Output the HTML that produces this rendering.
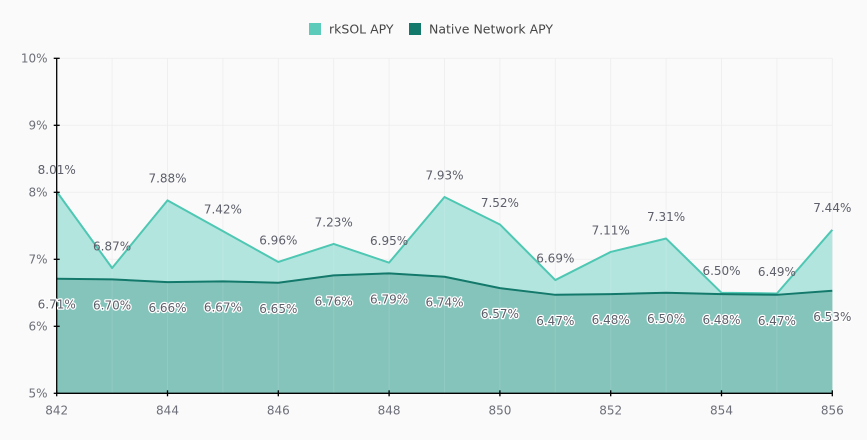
<!DOCTYPE html>
<html><head><meta charset="utf-8"><style>
html,body{margin:0;padding:0;background:#fafafa;}
svg{display:block;font-family:"DejaVu Sans","Liberation Sans",sans-serif;}
.t{font-size:12px;fill:#6e7079;}
.l{font-size:12px;fill:#5d5f6a;text-anchor:middle;}
.lb{font-size:12px;fill:#5d5f6a;text-anchor:middle;stroke:#fff;stroke-width:2.5px;paint-order:stroke;stroke-linejoin:round;}
</style></head><body>
<svg width="867" height="440" viewBox="0 0 867 440" xmlns="http://www.w3.org/2000/svg">
<rect width="867" height="440" fill="#fafafa"/>
<!-- legend -->
<rect x="309" y="23" width="12" height="12" fill="#5ccbba"/>
<text x="329" y="33.5" style="font-size:12.5px;fill:#464646">rkSOL APY</text>
<rect x="409" y="23" width="12" height="12" fill="#13796b"/>
<text x="429" y="33.5" style="font-size:12.5px;fill:#464646">Native Network APY</text>
<!-- grid -->
<g stroke="#efefef" stroke-width="1">
<line x1="57" y1="58.3" x2="832.3" y2="58.3"/>
<line x1="57" y1="125.3" x2="832.3" y2="125.3"/>
<line x1="57" y1="192.3" x2="832.3" y2="192.3"/>
<line x1="57" y1="259.3" x2="832.3" y2="259.3"/>
<line x1="57" y1="326.3" x2="832.3" y2="326.3"/>
<line x1="112.1" y1="58" x2="112.1" y2="393"/>
<line x1="167.5" y1="58" x2="167.5" y2="393"/>
<line x1="222.9" y1="58" x2="222.9" y2="393"/>
<line x1="278.3" y1="58" x2="278.3" y2="393"/>
<line x1="333.7" y1="58" x2="333.7" y2="393"/>
<line x1="389.1" y1="58" x2="389.1" y2="393"/>
<line x1="444.5" y1="58" x2="444.5" y2="393"/>
<line x1="499.9" y1="58" x2="499.9" y2="393"/>
<line x1="555.3" y1="58" x2="555.3" y2="393"/>
<line x1="610.7" y1="58" x2="610.7" y2="393"/>
<line x1="666.1" y1="58" x2="666.1" y2="393"/>
<line x1="721.5" y1="58" x2="721.5" y2="393"/>
<line x1="776.9" y1="58" x2="776.9" y2="393"/>
<line x1="832.3" y1="58" x2="832.3" y2="393"/>
</g>
<!-- upper area -->
<polygon fill="#b3e5df" points="56.7,191.63 112.1,268.01 167.5,200.34 222.9,231.16 278.3,261.98 333.7,243.89 389.1,262.65 444.5,196.99 499.9,224.46 555.3,280.07 610.7,251.93 666.1,238.53 721.5,292.8 776.9,293.47 832.3,229.82 832.3,393.3 56.7,393.3"/>
<!-- lower area -->
<polygon fill="#85c4bb" points="56.7,278.73 112.1,279.4 167.5,282.08 222.9,281.41 278.3,282.75 333.7,275.38 389.1,273.37 444.5,276.72 499.9,288.11 555.3,294.81 610.7,294.14 666.1,292.8 721.5,294.14 776.9,294.81 832.3,290.79 832.3,393.3 56.7,393.3"/>
<g stroke="#ffffff" stroke-width="1" opacity="0.1">
<line x1="112.1" y1="200" x2="112.1" y2="393"/><line x1="167.5" y1="200" x2="167.5" y2="393"/><line x1="222.9" y1="230" x2="222.9" y2="393"/><line x1="278.3" y1="260" x2="278.3" y2="393"/><line x1="333.7" y1="243" x2="333.7" y2="393"/><line x1="389.1" y1="262" x2="389.1" y2="393"/><line x1="444.5" y1="196" x2="444.5" y2="393"/><line x1="499.9" y1="224" x2="499.9" y2="393"/><line x1="555.3" y1="280" x2="555.3" y2="393"/><line x1="610.7" y1="251" x2="610.7" y2="393"/><line x1="666.1" y1="238" x2="666.1" y2="393"/><line x1="721.5" y1="292" x2="721.5" y2="393"/><line x1="776.9" y1="293" x2="776.9" y2="393"/>
</g>
<!-- lines -->
<polyline fill="none" stroke="#4ec7b3" stroke-width="2" stroke-linejoin="round" points="56.7,191.63 112.1,268.01 167.5,200.34 222.9,231.16 278.3,261.98 333.7,243.89 389.1,262.65 444.5,196.99 499.9,224.46 555.3,280.07 610.7,251.93 666.1,238.53 721.5,292.8 776.9,293.47 832.3,229.82"/>
<polyline fill="none" stroke="#13796b" stroke-width="2" stroke-linejoin="round" points="56.7,278.73 112.1,279.4 167.5,282.08 222.9,281.41 278.3,282.75 333.7,275.38 389.1,273.37 444.5,276.72 499.9,288.11 555.3,294.81 610.7,294.14 666.1,292.8 721.5,294.14 776.9,294.81 832.3,290.79"/>
<!-- axes -->
<g stroke="#000" stroke-width="1.3">
<line x1="56.7" y1="58.3" x2="56.7" y2="393.3"/>
<line x1="56.7" y1="393.3" x2="832.3" y2="393.3"/>
<line x1="53.7" y1="58.3" x2="59.7" y2="58.3"/>
<line x1="53.7" y1="125.3" x2="59.7" y2="125.3"/>
<line x1="53.7" y1="192.3" x2="59.7" y2="192.3"/>
<line x1="53.7" y1="259.3" x2="59.7" y2="259.3"/>
<line x1="53.7" y1="326.3" x2="59.7" y2="326.3"/>
<line x1="53.7" y1="393.3" x2="59.7" y2="393.3"/>
<line x1="56.7" y1="390.3" x2="56.7" y2="396.3"/>
<line x1="167.5" y1="390.3" x2="167.5" y2="396.3"/>
<line x1="278.3" y1="390.3" x2="278.3" y2="396.3"/>
<line x1="389.1" y1="390.3" x2="389.1" y2="396.3"/>
<line x1="499.9" y1="390.3" x2="499.9" y2="396.3"/>
<line x1="610.7" y1="390.3" x2="610.7" y2="396.3"/>
<line x1="721.5" y1="390.3" x2="721.5" y2="396.3"/>
<line x1="832.3" y1="390.3" x2="832.3" y2="396.3"/>
</g>
<!-- y labels -->
<g class="t" text-anchor="end">
<text x="47.5" y="62.7">10%</text>
<text x="47.5" y="129.7">9%</text>
<text x="47.5" y="196.7">8%</text>
<text x="47.5" y="263.7">7%</text>
<text x="47.5" y="330.7">6%</text>
<text x="47.5" y="397.7">5%</text>
</g>
<!-- x labels -->
<g class="t" text-anchor="middle">
<text x="56.7" y="414.4">842</text>
<text x="167.5" y="414.4">844</text>
<text x="278.3" y="414.4">846</text>
<text x="389.1" y="414.4">848</text>
<text x="499.9" y="414.4">850</text>
<text x="610.7" y="414.4">852</text>
<text x="721.5" y="414.4">854</text>
<text x="832.3" y="414.4">856</text>
</g>
<!-- upper labels -->
<g class="l">
<text x="56.7" y="174">8.01%</text>
<text x="112.1" y="250.4">6.87%</text>
<text x="167.5" y="182.7">7.88%</text>
<text x="222.9" y="213.6">7.42%</text>
<text x="278.3" y="244.4">6.96%</text>
<text x="333.7" y="226.3">7.23%</text>
<text x="389.1" y="245">6.95%</text>
<text x="444.5" y="179.4">7.93%</text>
<text x="499.9" y="206.9">7.52%</text>
<text x="555.3" y="262.5">6.69%</text>
<text x="610.7" y="234.3">7.11%</text>
<text x="666.1" y="220.9">7.31%</text>
<text x="721.5" y="275.2">6.50%</text>
<text x="776.9" y="275.9">6.49%</text>
<text x="832.3" y="212.2">7.44%</text>
</g>
<!-- lower labels -->
<g class="lb">
<text x="56.7" y="308.7">6.71%</text>
<text x="112.1" y="309.4">6.70%</text>
<text x="167.5" y="312.1">6.66%</text>
<text x="222.9" y="311.4">6.67%</text>
<text x="278.3" y="312.8">6.65%</text>
<text x="333.7" y="305.4">6.76%</text>
<text x="389.1" y="303.4">6.79%</text>
<text x="444.5" y="306.7">6.74%</text>
<text x="499.9" y="318.1">6.57%</text>
<text x="555.3" y="324.8">6.47%</text>
<text x="610.7" y="324.1">6.48%</text>
<text x="666.1" y="322.8">6.50%</text>
<text x="721.5" y="324.1">6.48%</text>
<text x="776.9" y="324.8">6.47%</text>
<text x="832.3" y="320.8">6.53%</text>
</g>
</svg>
</body></html>
